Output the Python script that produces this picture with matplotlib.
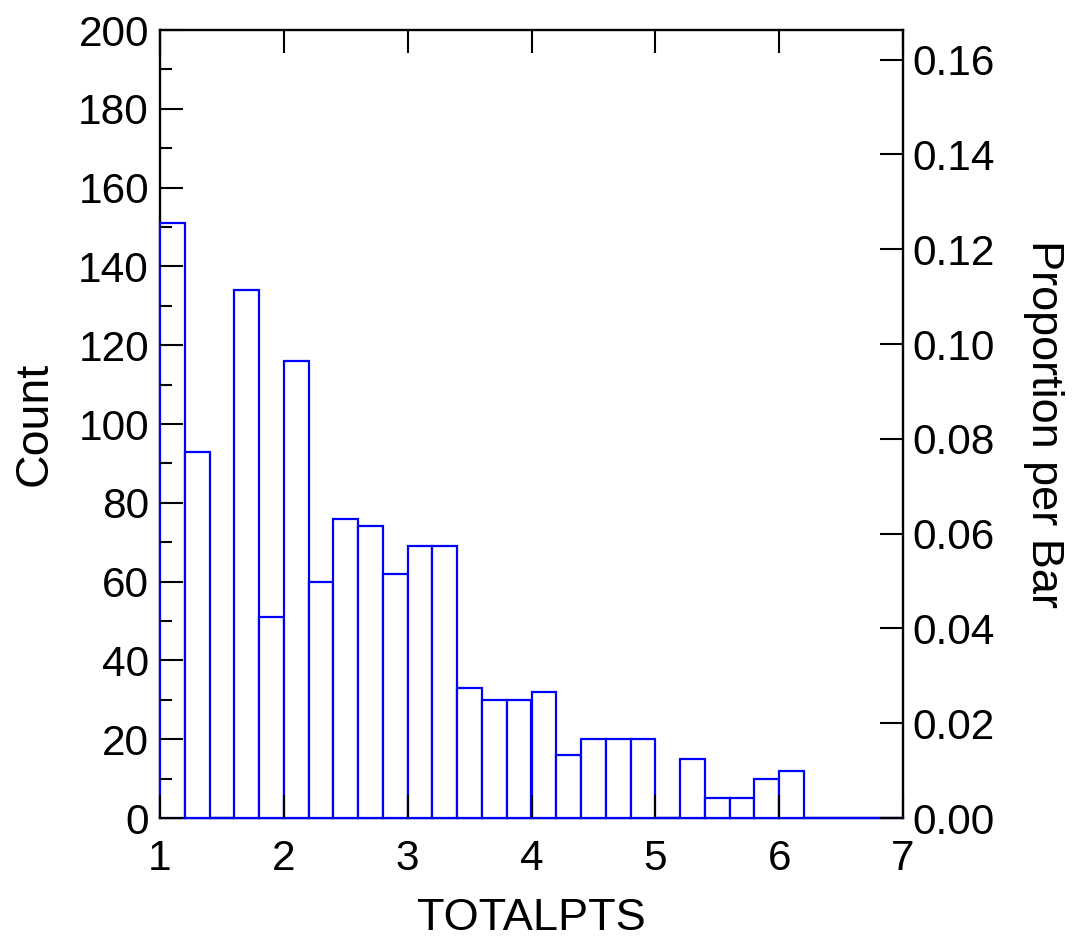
import matplotlib
matplotlib.use("Agg")
import matplotlib.pyplot as plt
from matplotlib.ticker import MultipleLocator, FormatStrFormatter
import numpy as np

plt.rcParams['font.family'] = ['Liberation Sans', 'DejaVu Sans']

# Data
bin_edges = [1.0, 1.2, 1.4, 1.6, 1.8, 2.0, 2.2, 2.4, 2.6, 2.8, 3.0, 3.2, 3.4, 3.6,
             3.8, 4.0, 4.2, 4.4, 4.6, 4.8, 5.0, 5.2, 5.4, 5.6, 5.8, 6.0, 6.2, 6.4,
             6.6, 6.8, 7.0]
counts = [151, 93, 0, 134, 51, 116, 60, 76, 74, 62, 69, 69, 33, 30,
          30, 32, 16, 20, 20, 20, 0, 15, 5, 5, 10, 12, 0, 0, 0, 0]
x_ticks = [1, 2, 3, 4, 5, 6, 7]
count_ticks = [0, 20, 40, 60, 80, 100, 120, 140, 160, 180, 200]
prop_ticks = [0.00, 0.02, 0.04, 0.06, 0.08, 0.10, 0.12, 0.14, 0.16]

total = sum(counts)

fig = plt.figure(figsize=(10.77, 9.42), dpi=100)
ax = fig.add_axes([160/1077, 1 - 818/942, (903-160)/1077, (818-30)/942])
ax.set_axisbelow(False)

lefts = np.array(bin_edges[:-1])
widths = np.diff(bin_edges)
ax.bar(lefts, counts, width=widths, align='edge', facecolor='white',
       edgecolor='#0000ff', linewidth=1.6, zorder=2, clip_on=False)

ax.set_xlim(1, 7)
ax.set_ylim(0, 200)
ax.set_xticks(x_ticks)
ax.set_yticks(count_ticks)
ax.yaxis.set_minor_locator(MultipleLocator(10))

fs_tick = 30.5
fs_lab = 32.5
ax.tick_params(axis='both', which='major', direction='in', length=16.5, width=1.5,
               labelsize=fs_tick, top=True, right=False)
ax.tick_params(axis='x', which='major', pad=15)
ax.tick_params(axis='y', which='major', pad=8)
ax.tick_params(axis='y', which='minor', direction='in', length=8.5, width=1.5, right=False)
ax.tick_params(axis='x', which='minor', bottom=False, top=False)

for s in ax.spines.values():
    s.set_linewidth(1.7)
    s.set_zorder(1)

ax.set_xlabel('TOTALPTS', fontsize=fs_lab, labelpad=14)
ax.set_ylabel('Count', fontsize=33.5, labelpad=15.5)

ax2 = ax.twinx()
ax2.set_ylim(0, 200 / total)
ax2.set_yticks(prop_ticks)
ax2.yaxis.set_major_formatter(FormatStrFormatter('%.2f'))
ax2.tick_params(axis='y', which='major', direction='in', length=16.5, width=1.5,
                labelsize=fs_tick, pad=7)
ax2.set_ylabel('Proportion per Bar', fontsize=fs_lab, rotation=270, labelpad=49.5)
for s in ax2.spines.values():
    s.set_visible(False)

fig.savefig('out.png', dpi=100)
